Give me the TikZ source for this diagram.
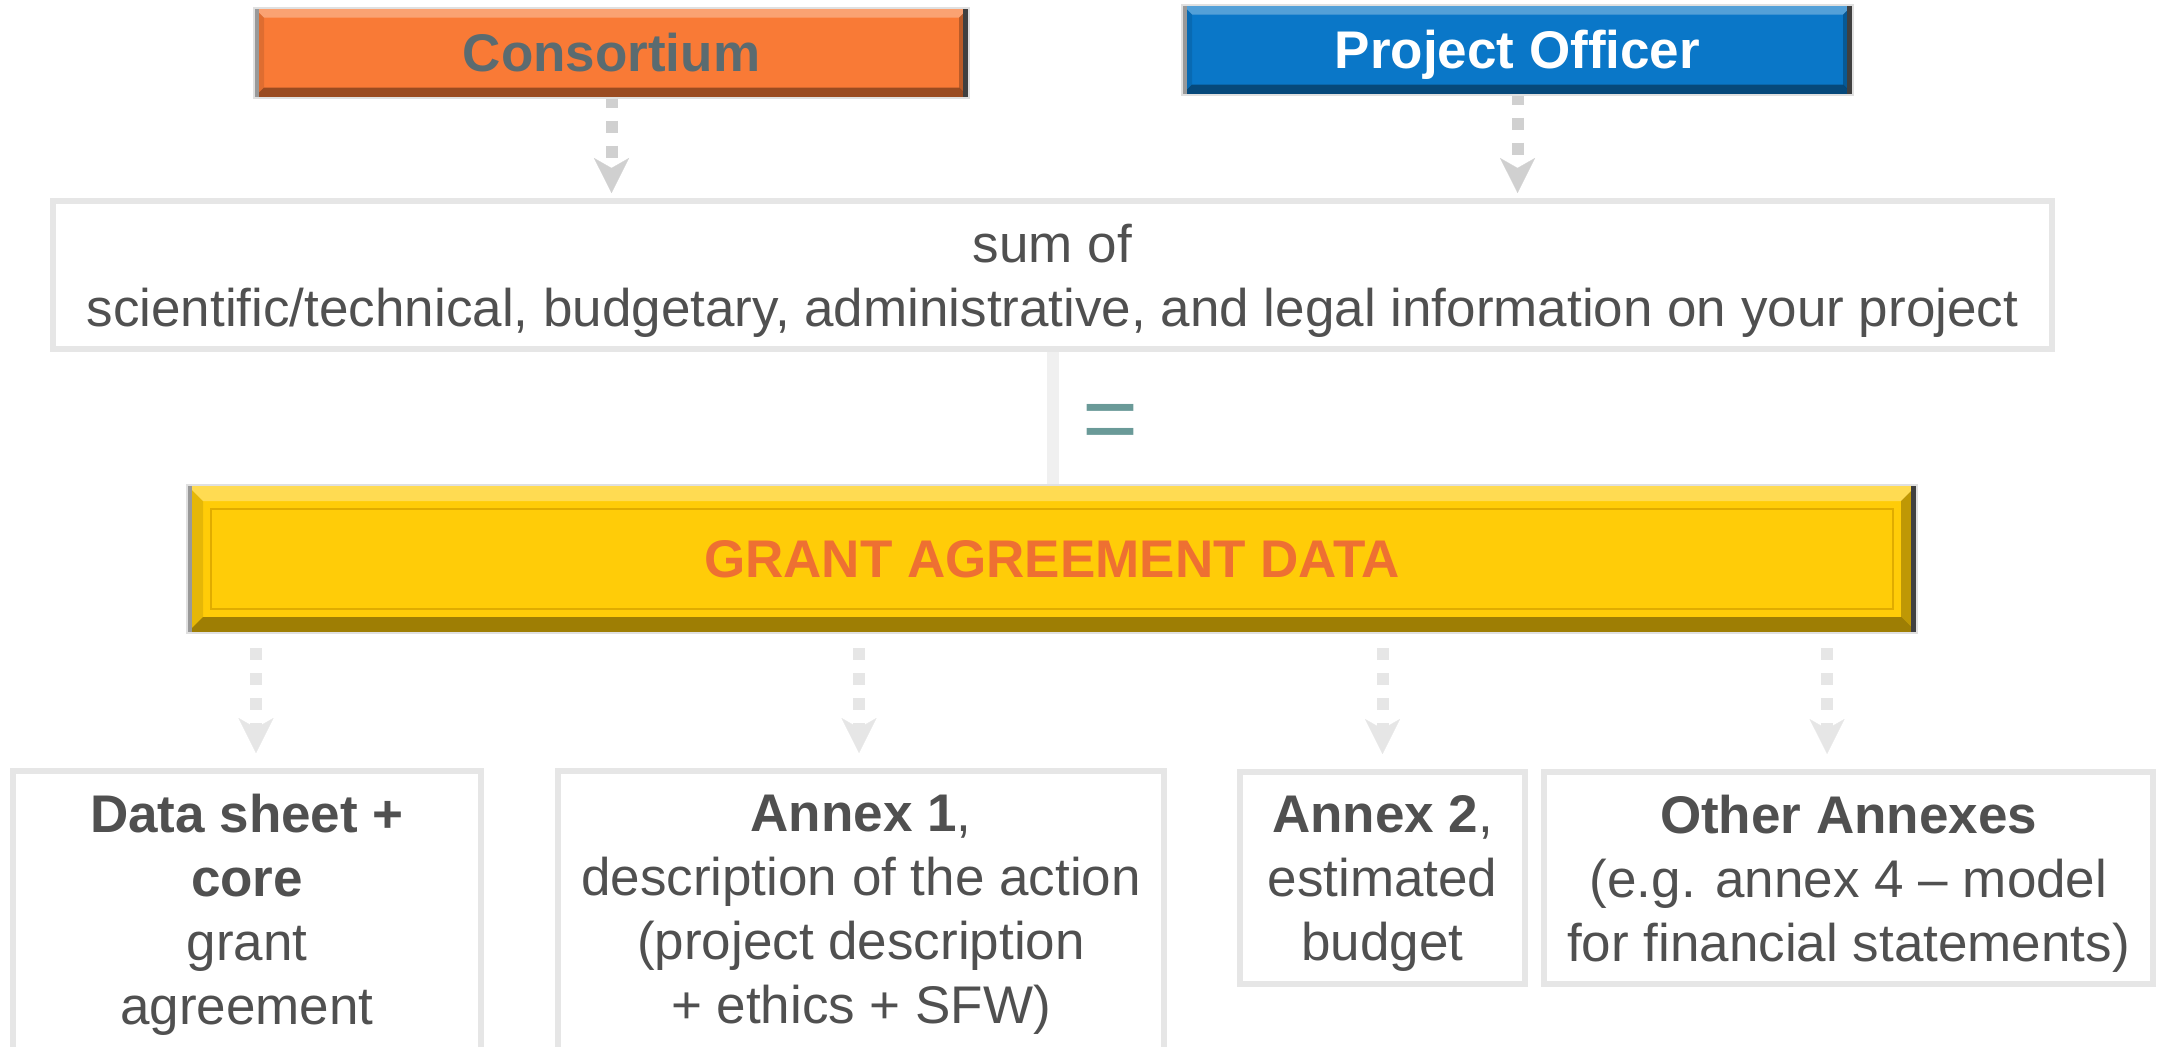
\documentclass[tikz,border=0pt]{standalone}
\usepackage{fontspec}
\setmainfont{Liberation Sans}
\usetikzlibrary{arrows.meta,backgrounds}
\definecolor{consorange}{HTML}{F97A36}
\definecolor{poblue}{HTML}{0A77C8}
\definecolor{gayellow}{HTML}{FFCC08}
\definecolor{gaorange}{HTML}{EE7032}
\definecolor{slategrey}{HTML}{5B6B70}
\definecolor{textgrey}{HTML}{505050}
\definecolor{framegrey}{HTML}{E6E6E6}
\definecolor{arrowgrey}{HTML}{D0D0D0}
\definecolor{eqteal}{HTML}{6A9A98}
\definecolor{goldline}{HTML}{E0AC00}
\newcommand\ppb{path picture bounding box}
\tikzset{
	every box/.style={
		rectangle,
		inner sep=0pt,
		align=center,
		font=\fontsize{26.5}{32}\selectfont },
	bevel/.style={
		path picture={
			\fill[white, opacity=.3] (\ppb.north west) -- (\ppb.north east) -- ([shift={(-#1,-#1)}]\ppb.north east) -- ([shift={(#1,-#1)}]\ppb.north west) -- cycle;
			\fill[black, opacity=.38] (\ppb.south west) -- (\ppb.south east) -- ([shift={(-#1,#1)}]\ppb.south east) -- ([shift={(#1,#1)}]\ppb.south west) -- cycle;
			\fill[black, opacity=.1] (\ppb.north west) -- ([shift={(#1,-#1)}]\ppb.north west) -- ([shift={(#1,#1)}]\ppb.south west) -- (\ppb.south west) -- cycle;
			\fill[black, opacity=.25] (\ppb.north east) -- ([shift={(-#1,-#1)}]\ppb.north east) -- ([shift={(-#1,#1)}]\ppb.south east) -- (\ppb.south east) -- cycle;
			\fill[black!40] (\ppb.north west) rectangle ([xshift=2.5pt]\ppb.south west);
			\fill[black!75] (\ppb.north east) rectangle ([xshift=-3pt]\ppb.south east); } },
	head box/.style={
		every box,
		bevel=5pt,
		draw=black!12,
		line width=1pt,
		minimum height=45pt,
		text depth=0pt,
		font=\fontsize{26.5}{32}\selectfont\bfseries },
	info box/.style={
		every box,
		draw=framegrey,
		line width=3pt,
		text=textgrey },
	low text/.style={
		text depth=-1.4pt },
	flow/.style={
		line width=6pt,
		dash pattern=on 6pt off 6.5pt,
		-{Stealth[length=17.5pt, width=17.5pt, inset=5pt, line width=0.1pt]} },
}
\begin{document}
\begin{tikzpicture}[x=0.5pt, y=-0.5pt]

		\clip (0,0) rectangle (2162,1046);

		\node [head box, fill=consorange, text=slategrey, minimum width=357.5pt] (cons) at (611.5,52.5) {Consortium};
		\node [head box, fill=poblue, text=white, minimum width=335.5pt] (po) at (1517.5,49.5) {Project Officer};

		\node [info box, low text, minimum width=999.5pt, minimum height=74pt] (sum) at (1052.5,275)
		{sum of\\scientific/technical, budgetary, administrative, and legal information on your project};

		\node [head box, bevel=8pt, fill=gayellow, text=gaorange, minimum width=865pt, minimum height=74pt] (grant) at (1052,559) {GRANT AGREEMENT DATA};
		\draw [goldline, line width=1pt] ([shift={(12.5pt,-12.5pt)}]grant.north west) rectangle ([shift={(-12.5pt,12.5pt)}]grant.south east);

		\node [inner sep=0pt, text=eqteal, font=\fontsize{48}{48}\selectfont] (eq) at (1111,428) {=};

		\node [info box, minimum width=234pt, minimum height=144pt] (ds) at (247,915) {\textbf{Data sheet +}\\\textbf{core}\\grant\\agreement};
		\node [info box, minimum width=303pt, minimum height=144pt] (annexa) at (861,915) {\textbf{Annex 1},\\description of the action\\(project description\\+ ethics + SFW)};
		\node [info box, low text, minimum width=142.5pt, minimum height=106pt] (annexb) at (1382.5,878) {\textbf{Annex 2},\\estimated\\budget};
		\node [info box, low text, minimum width=304.5pt, minimum height=106pt] (other) at (1848.5,878) {\textbf{Other Annexes}\\(e.g. annex 4 – model\\for financial statements)};

		\begin{scope}[on background layer]
		\draw [line width=6pt, black!6] (sum.south) -- (sum.south |- grant.north);
		\end{scope}

		\foreach \n in {cons,po}
		\draw [flow, arrowgrey, dash phase=1.5pt] (\n.south) -- ([yshift=2.5pt]\n.south |- sum.north);

		\foreach \n/\s in {ds/4.5pt,annexa/-1pt,annexb/0pt,other/-10.75pt}
		\draw [flow, framegrey, shorten <=7pt] ([xshift=\s]\n.north |- grant.south) -- ([xshift=\s,yshift=7.5pt]\n.north);
	\end{tikzpicture}
\end{document}
